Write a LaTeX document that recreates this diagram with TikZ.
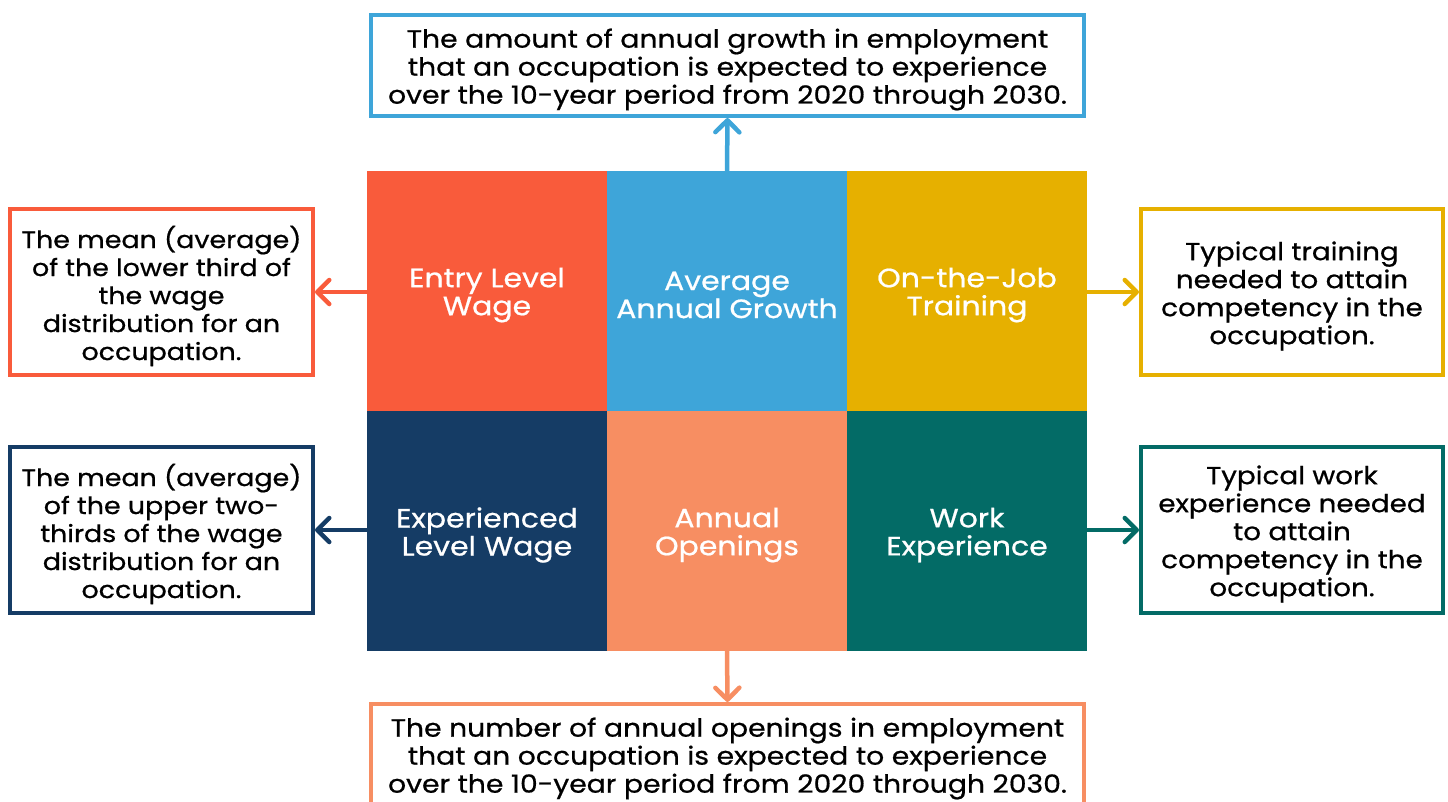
\documentclass[tikz,border=0pt]{standalone}
\usepackage{fontspec}
\setmainfont{Poppins}[FakeStretch=1.13, FakeBold=0.7]
\usetikzlibrary{arrows.meta}
\definecolor{cRed}{HTML}{F95B3B}
\definecolor{cBlue}{HTML}{3EA5D9}
\definecolor{cGold}{HTML}{E6B000}
\definecolor{cNavy}{HTML}{153C65}
\definecolor{cSalmon}{HTML}{F78E62}
\definecolor{cTeal}{HTML}{036B66}
\tikzset{
  cell/.style={fill=#1, minimum width=240pt, minimum height=240pt, inner sep=0pt},
  celltext/.style={text=white, align=center, inner sep=0pt, yshift=-4pt,
    font=\fontsize{26.5}{28}\selectfont},
  descbox/.style={draw=#1, line width=4pt, fill=white, inner sep=0pt},
  desctext/.style={align=center, inner sep=0pt, yshift=-4pt,
    font=\fontsize{#1}{28}\selectfont},
  conn/.style={draw=#1, line width=4.5pt, -{Straight Barb[length=12pt,width=24pt,round]}}
}
\begin{document}
\begin{tikzpicture}[x=1pt,y=-1pt]
\useasboundingbox (0,0) rectangle (1448,801);
\clip (0,0) rectangle (1448,801);
% grid cells
\node[cell=cRed,    label={[celltext]center:{Entry Level\\Wage}}]            (elw) at (487,291) {};
\node[cell=cBlue,   label={[celltext]center:{Average\\Annual Growth}}]       (aag) at (727,291) {};
\node[cell=cGold,   label={[celltext]center:{On-the-Job\\Training}}]         (ojt) at (967,291) {};
\node[cell=cNavy,   label={[celltext]center:{Experienced\\Level Wage}}]      (exw) at (487,531) {};
\node[cell=cSalmon, label={[celltext]center:{Annual\\Openings}}]             (aop) at (727,531) {};
\node[cell=cTeal,   label={[celltext]center:{Work\\Experience}}]             (wex) at (967,531) {};
% description boxes
\node[descbox=cBlue, minimum width=713pt, minimum height=101pt,
  label={[desctext=25]center:{The amount of annual growth in employment\\that an occupation is expected to experience\\over the 10-year period from 2020 through 2030.}}]
  (dtop) at (727.5,65.5) {};
\node[descbox=cSalmon, minimum width=713pt, minimum height=101pt,
  label={[desctext=25]center:{The number of annual openings in employment\\that an occupation is expected to experience\\over the 10-year period from 2020 through 2030.}}]
  (dbot) at (727.5,754.5) {};
\node[descbox=cRed, minimum width=303pt, minimum height=166pt,
  label={[desctext=23.8]center:{The mean (average)\\of the lower third of\\the wage\\distribution for an\\occupation.}}]
  (dlt) at (161.5,292) {};
\node[descbox=cNavy, minimum width=303pt, minimum height=166pt,
  label={[desctext=23.8]center:{The mean (average)\\of the upper two-\\thirds of the wage\\distribution for an\\occupation.}}]
  (dlb) at (161.5,530) {};
\node[descbox=cGold, minimum width=302pt, minimum height=166pt,
  label={[desctext=24.6]center:{Typical training\\needed to attain\\competency in the\\occupation.}}]
  (drt) at (1292,292) {};
\node[descbox=cTeal, minimum width=302pt, minimum height=166pt,
  label={[desctext=24.6]center:{Typical work\\experience needed\\to attain\\competency in the\\occupation.}}]
  (drb) at (1292,530) {};
% connectors
\draw[conn=cBlue]   (aag.north) -- (dtop.south);
\draw[conn=cSalmon] (aop.south) -- (dbot.north);
\draw[conn=cRed]    (elw.west |- dlt.east) -- (dlt.east);
\draw[conn=cNavy]   (exw.west |- dlb.east) -- (dlb.east);
\draw[conn=cGold]   (ojt.east |- drt.west) -- (drt.west);
\draw[conn=cTeal]   (wex.east |- drb.west) -- (drb.west);
\end{tikzpicture}
\end{document}
